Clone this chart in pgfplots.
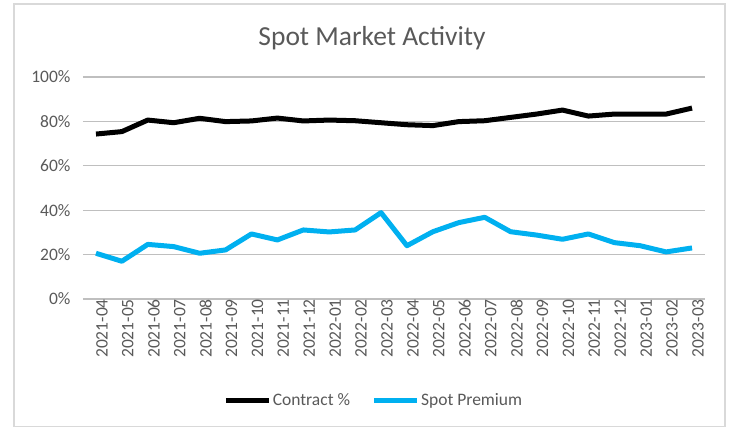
\documentclass[border=0pt]{standalone}
\usepackage{pgfplots}
\pgfplotsset{compat=1.18}
\usepackage{fontspec}
\setmainfont{Carlito}
\definecolor{txt}{HTML}{595959}
\definecolor{grid}{HTML}{D9D9D9}
\definecolor{spot}{HTML}{00B0F0}
\definecolor{frame}{HTML}{D9D9D9}
\begin{document}
\begin{tikzpicture}[x=1pt,y=1pt]
\path[use as bounding box] (0,0) rectangle (729,430);
\draw[frame,line width=1.2pt] (14,3.5) rectangle (725,426);
\node[anchor=base,text=txt,font=\fontsize{27.5}{32}\selectfont] at (372,384) {Spot Market Activity};
\begin{axis}[
  at={(83pt,131pt)}, anchor=south west,
  scale only axis, width=622pt, height=222pt,
  xmin=-0.5, xmax=23.5, ymin=0, ymax=100,
  axis line style={draw=none},
  ytick={0,20,40,60,80,100},
  yticklabel={\pgfmathprintnumber{\tick}\%},
  ymajorgrids, xmajorgrids=false, grid style={grid, line width=1.2pt},
  tick style={draw=none},
  major tick length=0pt,
  xtick={0,...,23},
  xticklabels={2021-04,2021-05,2021-06,2021-07,2021-08,2021-09,2021-10,2021-11,2021-12,2022-01,2022-02,2022-03,2022-04,2022-05,2022-06,2022-07,2022-08,2022-09,2022-10,2022-11,2022-12,2023-01,2023-02,2023-03},
  /pgf/number format/assume math mode=true,
  tick label style={text=txt, font=\fontsize{17.5}{20}\selectfont},
  yticklabel style={xshift=-9pt},
  xticklabel style={rotate=90, anchor=east, yshift=-6pt, inner sep=0pt},
  legend columns=2,
  legend style={draw=none, fill=none, at={(0.467,-0.455)}, anchor=center,
    font=\fontsize{17.5}{20}\selectfont, text=txt,
    /tikz/every even column/.append style={column sep=20pt},
    nodes={inner sep=1.5pt}},
  legend image code/.code={\draw[#1] (0pt,0pt) -- (43pt,0pt);},
]
\addplot[black, line width=5pt, line join=round] coordinates {
(0,74.3) (1,75.4) (2,80.6) (3,79.4) (4,81.4) (5,79.9) (6,80.2) (7,81.5) (8,80.2) (9,80.6) (10,80.3) (11,79.4)
(12,78.5) (13,78.1) (14,79.9) (15,80.3) (16,81.8) (17,83.3) (18,85.1) (19,82.4) (20,83.3) (21,83.3) (22,83.3) (23,86.0)};
\addlegendentry{Contract \%}
\addplot[spot, line width=5pt, line join=round] coordinates {
(0,20.6) (1,17.0) (2,24.6) (3,23.6) (4,20.6) (5,22.1) (6,29.3) (7,26.6) (8,31.1) (9,30.2) (10,31.1) (11,38.9)
(12,24.0) (13,30.3) (14,34.4) (15,36.8) (16,30.3) (17,28.8) (18,26.9) (19,29.3) (20,25.4) (21,24.0) (22,21.2) (23,23.0)};
\addlegendentry{Spot Premium}
\end{axis}
\end{tikzpicture}
\end{document}
